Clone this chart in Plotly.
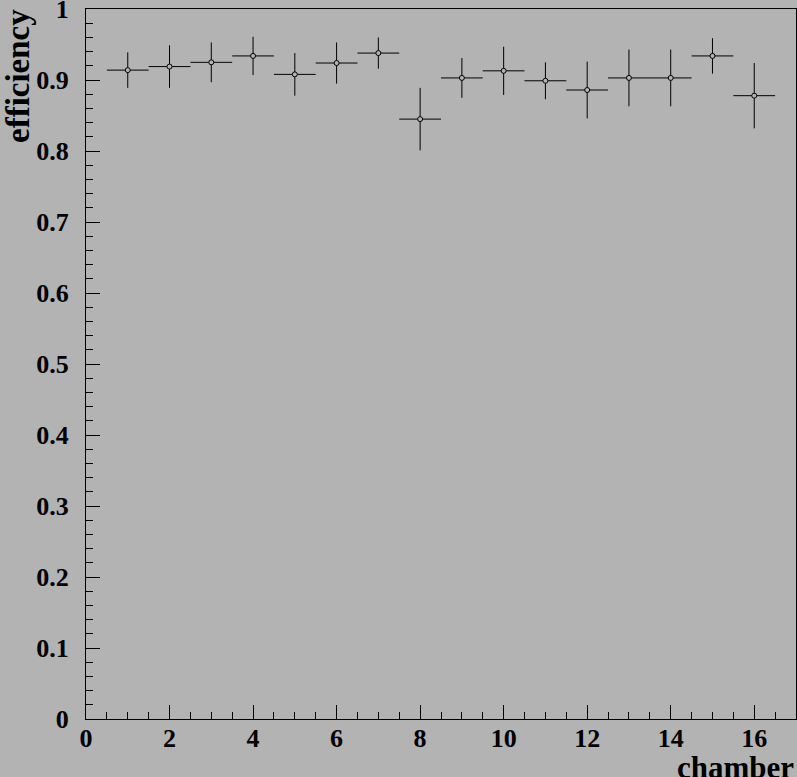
import plotly.graph_objects as go

chamber = list(range(1, 17))
efficiency = [0.914, 0.919, 0.925, 0.934, 0.908, 0.924, 0.938, 0.845,
              0.903, 0.913, 0.899, 0.886, 0.903, 0.903, 0.934, 0.878]
eff_err = [0.025, 0.030, 0.028, 0.027, 0.030, 0.029, 0.022, 0.044,
           0.028, 0.034, 0.026, 0.040, 0.040, 0.040, 0.025, 0.046]
bin_half = [0.5] * 16

bg = "#b3b3b3"
font = "Liberation Serif"

fig = go.Figure()
fig.add_trace(go.Scatter(
    x=chamber, y=efficiency, mode="markers",
    marker=dict(symbol="circle", size=5, color=bg, line=dict(color="black", width=1)),
    error_y=dict(type="data", array=eff_err, color="black", thickness=1, width=0),
    error_x=dict(type="data", array=bin_half, color="black", thickness=1, width=0),
    showlegend=False,
))

axis_common = dict(
    showgrid=False, zeroline=False,
    showline=True, linecolor="black", linewidth=1, mirror=True,
    ticks="inside", ticklen=14, tickcolor="black", tickwidth=1,
    tickfont=dict(family=font, size=26, color="black", weight="bold"),
    ticklabeloverflow="allow", automargin=False,
)

fig.update_xaxes(range=[0, 17], tick0=0, dtick=2,
                 minor=dict(ticks="inside", ticklen=7, dtick=0.5, tickcolor="black"),
                 ticklabelstandoff=-4, **axis_common)
# tiny headroom so the tick at 1 isn't dropped by float rounding
fig.update_yaxes(range=[0, 1.0001], tick0=0, dtick=0.1,
                 minor=dict(ticks="inside", ticklen=7, dtick=0.02, tickcolor="black"),
                 ticklabelstandoff=11, **axis_common)

# axis titles placed like ROOT: at the far end of each axis
fig.add_annotation(text="<b>chamber</b>", xref="paper", yref="paper",
                   x=1.0, y=0, xanchor="right", yanchor="top", yshift=-29,
                   showarrow=False, font=dict(family=font, size=31, color="black"))
fig.add_annotation(text="<b>efficiency</b>", xref="paper", yref="paper",
                   x=0, y=1.0, xanchor="left", yanchor="top", xshift=-88, yshift=2,
                   textangle=-90, showarrow=False,
                   font=dict(family=font, size=33, color="black"))

fig.update_layout(
    width=797, height=777,
    paper_bgcolor=bg, plot_bgcolor=bg,
    margin=dict(l=86, r=1, t=9, b=58),
    font=dict(family=font, color="black"),
)

fig.write_html("out.html", config={"displayModeBar": False},
               post_script="document.body.style.margin='0';"
                           "document.body.style.overflow='hidden';")
